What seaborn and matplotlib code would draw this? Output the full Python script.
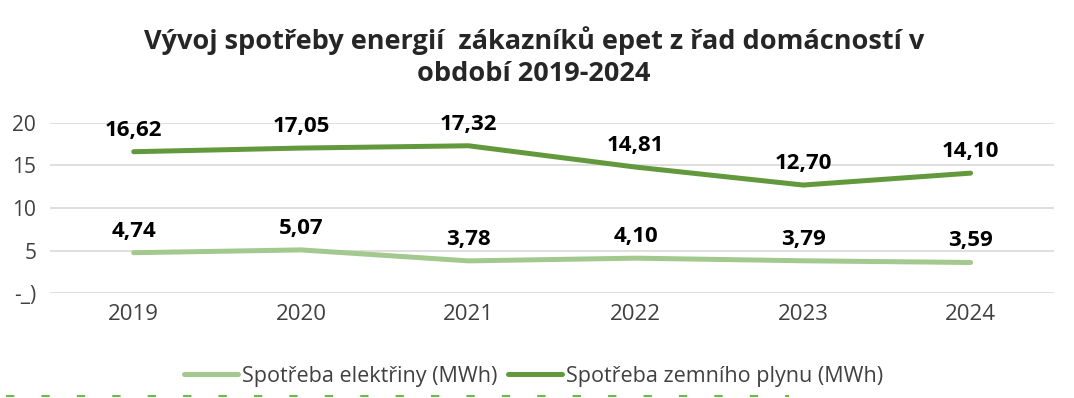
import pandas as pd
import matplotlib.pyplot as plt
import seaborn as sns

years = ['2019', '2020', '2021', '2022', '2023', '2024']
elektrina = [4.74, 5.07, 3.78, 4.10, 3.79, 3.59]
plyn = [16.62, 17.05, 17.32, 14.81, 12.70, 14.10]
series_names = ['Spotřeba elektřiny (MWh)', 'Spotřeba zemního plynu (MWh)']
ytick_labels = ['-_)', '5', '10', '15', '20']

df = pd.DataFrame({'rok': years * 2,
                   'hodnota': elektrina + plyn,
                   'serie': [series_names[0]] * 6 + [series_names[1]] * 6})

sns.set_style('white')
plt.rcParams['font.family'] = ['Open Sans', 'DejaVu Sans']

fig = plt.figure(figsize=(10.74, 3.98), dpi=100)
ax = fig.add_axes([0.0466, 0.2638, 0.935, 0.4272])

palette = {series_names[0]: '#a3c98e', series_names[1]: '#63993d'}
sns.lineplot(data=df, x='rok', y='hodnota', hue='serie', palette=palette,
             linewidth=3.6, ax=ax, legend=False, solid_capstyle='round')

# popisky hodnot
for name, vals in zip(series_names, [elektrina, plyn]):
    for i, v in enumerate(vals):
        ax.annotate(f'{v:.2f}'.replace('.', ','), (i, v), xytext=(0, 8),
                    textcoords='offset points', ha='center', va='bottom',
                    fontsize=16, fontweight='bold', color='black')

ax.set_xlim(-0.5, 5.5)
ax.set_ylim(0, 20)
ax.set_yticks([0, 5, 10, 15, 20])
ax.set_yticklabels(ytick_labels)
ax.yaxis.grid(True, color='#d9d9d9', linewidth=1.2)
ax.set_axisbelow(True)
for s in ax.spines.values():
    s.set_visible(False)
ax.tick_params(axis='x', length=0, labelsize=16, colors='#404040', pad=8)
ax.tick_params(axis='y', length=0, labelsize=15, colors='#404040', pad=10)
ax.set_xlabel('')
ax.set_ylabel('')

fig.text(0.497, 0.898, 'Vývoj spotřeby energií  zákazníků epet z řad domácností v',
         ha='center', va='center', fontsize=19.5, fontweight='bold', color='#262626')
fig.text(0.497, 0.815, 'období 2019-2024',
         ha='center', va='center', fontsize=19.5, fontweight='bold', color='#262626')

handles = [plt.Line2D([], [], color=palette[n], linewidth=3.6, solid_capstyle='round')
           for n in series_names]
fig.legend(handles, series_names, loc='center', bbox_to_anchor=(0.497, 0.055),
           ncol=2, frameon=False, fontsize=15.5, handlelength=2.5,
           handletextpad=0.2, columnspacing=0.5, labelcolor='#404040')

# okraj dole
fig.add_artist(plt.Line2D([0.006, 0.735], [0.004, 0.004], color='#6dbb45',
                          linewidth=1.5, linestyle=(0, (4, 13))))

fig.savefig('out.png', dpi=100)
